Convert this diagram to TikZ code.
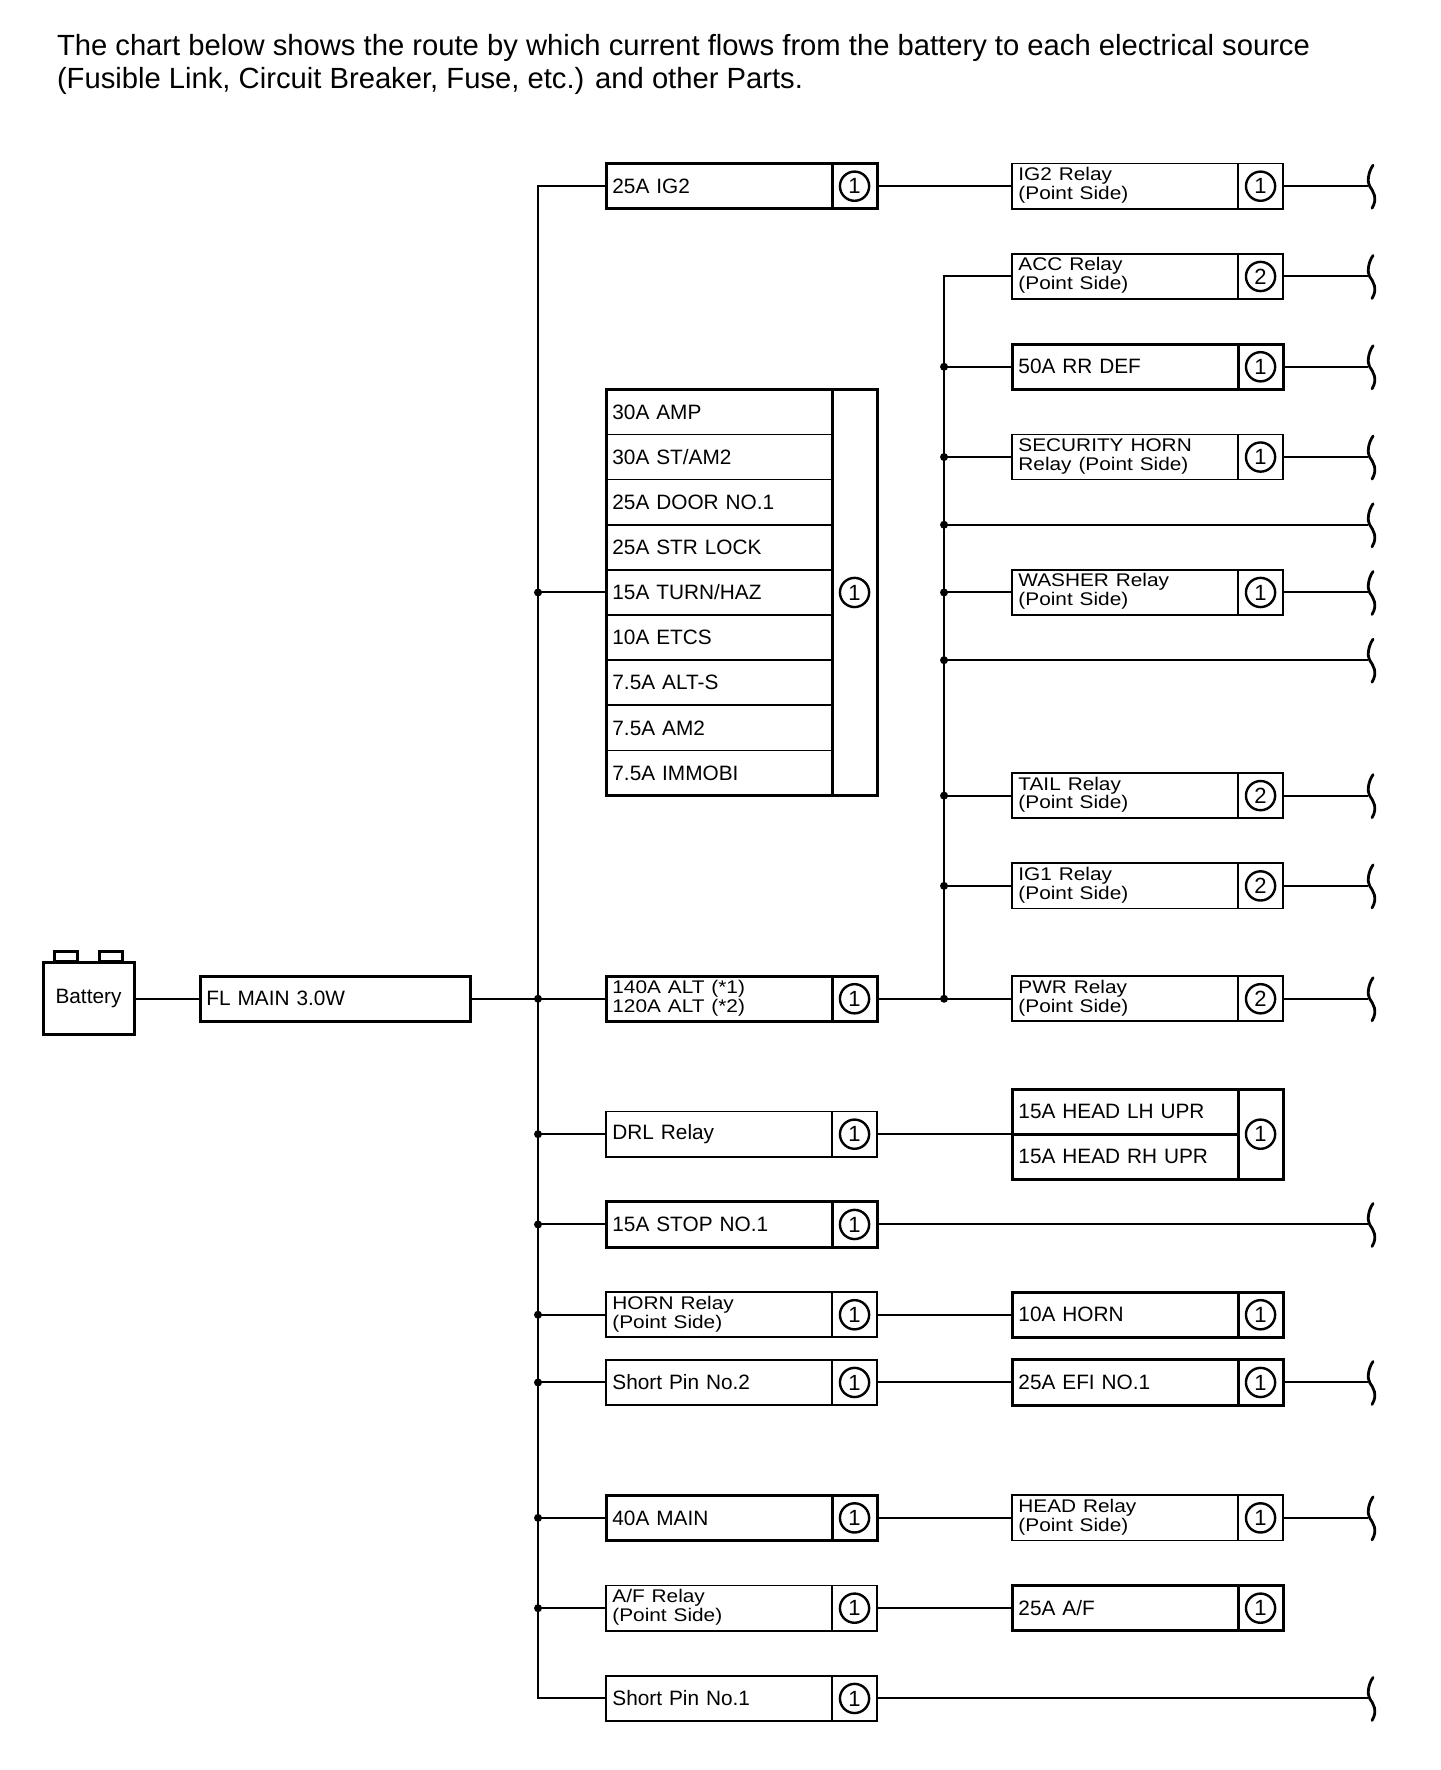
\documentclass[tikz,border=0pt]{standalone}
\usepackage{fontspec}
\setmainfont{Liberation Sans}
\usepackage{graphicx}
\usepackage{tikz}
\usetikzlibrary{positioning}
\newcommand\boxfont{\fontsize{10.4}{10.4}\selectfont}
\newcommand\twoln[2]{\scalebox{1}[.88]{\begin{tabular}{@{}l@{}}#1\\#2\end{tabular}}}
\tikzset{
  box/.style={draw,outer sep=0pt,anchor=west,minimum height=22.57pt,inner xsep=3.2pt,inner ysep=0pt,text width=106.6pt,align=left,font=\boxfont},
  pin/.style={draw,outer sep=0pt,minimum width=22.5pt,minimum height=22.57pt,inner sep=0pt,font=\fontsize{11}{11}\selectfont,
    path picture={\draw[line width=1.2pt] (path picture bounding box.center) circle (7.3pt);}},
  heavy/.style={line width=1.5pt},
  light/.style={line width=.85pt},
  wire/.style={line width=1pt},
  dot/.style={circle,fill,inner sep=0pt,minimum size=4pt},
  cut/.pic={\draw[line width=1.4pt,line cap=round] (2.5pt,10.5pt) .. controls (0pt,7pt) and (-0.5pt,2pt) .. (0.8pt,0pt) .. controls (2.5pt,-2.5pt) and (5pt,-6pt) .. (2pt,-11pt);},
}
\begin{document}
\begin{tikzpicture}[x=0.5pt,y=-11.285pt,wire]
  \useasboundingbox (0,-8.25) rectangle (1440,70.17);
  \node[font=\fontsize{14.6}{16.5}\selectfont,align=left,anchor=base west,inner sep=0pt] (ttl) at (56,-4.35)
    {The chart below shows the route by which current flows from the battery to each electrical source\\(Fusible Link, Circuit Breaker, Fuse, etc.) and other Parts.};
  \node[draw,heavy,minimum width=45.5pt,minimum height=36pt,inner sep=0pt,font=\boxfont] (bat) at (88.5,36) {Battery};
  \draw[heavy] ([xshift=-17pt]bat.north) rectangle ++(11.5pt,5pt);
  \draw[heavy] ([xshift=5.5pt]bat.north) rectangle ++(11.5pt,5pt);
  \node[box,heavy,text width=129pt] (fl) at (200,36) {FL MAIN 3.0W};
  \foreach \n/\c/\k/\w/\p/\t in {
      ig2/606/0/heavy/1/{25A IG2},
      ig2r/1012/0/light/1/{\twoln{IG2 Relay}{(Point Side)}},
      acc/1012/4/light/2/{\twoln{ACC Relay}{(Point Side)}},
      rrdef/1012/8/heavy/1/{50A RR DEF},
      shorn/1012/12/light/1/{\twoln{SECURITY HORN}{Relay (Point Side)}},
      washer/1012/18/light/1/{\twoln{WASHER Relay}{(Point Side)}},
      tail/1012/27/light/2/{\twoln{TAIL Relay}{(Point Side)}},
      ig1/1012/31/light/2/{\twoln{IG1 Relay}{(Point Side)}},
      alt/606/36/heavy/1/{\twoln{140A ALT (*1)}{120A ALT (*2)}},
      pwr/1012/36/light/2/{\twoln{PWR Relay}{(Point Side)}},
      drl/606/42/light/1/{DRL Relay},
      stop/606/46/heavy/1/{15A STOP NO.1},
      hornr/606/50/light/1/{\twoln{HORN Relay}{(Point Side)}},
      horn/1012/50/heavy/1/{10A HORN},
      sp2/606/53/light/1/{Short Pin No.2},
      efi/1012/53/heavy/1/{25A EFI NO.1},
      main/606/59/heavy/1/{40A MAIN},
      headr/1012/59/light/1/{\twoln{HEAD Relay}{(Point Side)}},
      afr/606/63/light/1/{\twoln{A/F Relay}{(Point Side)}},
      af/1012/63/heavy/1/{25A A/F},
      sp1/606/67/light/1/{Short Pin No.1}}{
    \node[box,\w] (\n) at (\c,\k) {\t};
    \node[pin,\w,right=0pt of \n] (\n-p) {\p};}
  \foreach \n/\t [count=\i from 0] in {amp/{30A AMP},stam/{30A ST/AM2},door/{25A DOOR NO.1},lock/{25A STR LOCK},
      turn/{15A TURN/HAZ},etcs/{10A ETCS},alts/{7.5A ALT-S},amtwo/{7.5A AM2},immobi/{7.5A IMMOBI}}
    \node[box,light] (\n) at (606,{10+2*\i}) {\t};
  \node[pin,heavy,anchor=north west,minimum height=203.13pt] (big-p) at (amp.north east) {1};
  \draw[heavy] (amp.north west) rectangle (big-p.south east);
  \node[box,heavy,anchor=south west] (headlh) at (1012,42) {15A HEAD LH UPR};
  \node[box,heavy,anchor=north west] (headrh) at (1012,42) {15A HEAD RH UPR};
  \node[pin,heavy,anchor=north west,minimum height=45.14pt] (head-p) at (headlh.north east) {1};
  \draw (bat.east) -- (fl.west);
  \draw (fl.east) -- (alt.west);
  \draw (ig2.west) -- ++(-68,0) |- (sp1.west);
  \foreach \n in {turn,alt,drl,stop,hornr,sp2,main,afr}
    \draw (\n.west) -- ++(-68,0) node[dot]{};
  \draw (acc.west) -- ++(-68,0) |- (pwr.west);
  \foreach \n in {rrdef,shorn,washer,tail,ig1,pwr}
    \draw (\n.west) -- ++(-68,0) node[dot]{};
  \coordinate (wx) at (1368,0);
  \coordinate (j15) at (944,15);
  \coordinate (j21) at (944,21);
  \foreach \j in {j15,j21}
    \draw (\j) node[dot]{} -- (\j -| wx) pic{cut};
  \draw (ig2-p.east) -- (ig2r.west);
  \draw (alt-p.east) -- (pwr.west);
  \draw (drl-p.east) -- (headlh.south west);
  \draw (hornr-p.east) -- (horn.west);
  \draw (sp2-p.east) -- (efi.west);
  \draw (main-p.east) -- (headr.west);
  \draw (afr-p.east) -- (af.west);
  \foreach \n in {ig2r,acc,rrdef,shorn,washer,tail,ig1,pwr,stop,efi,headr,sp1}
    \draw (\n-p.east) -- (\n-p.east -| wx) pic{cut};
\end{tikzpicture}
\end{document}
